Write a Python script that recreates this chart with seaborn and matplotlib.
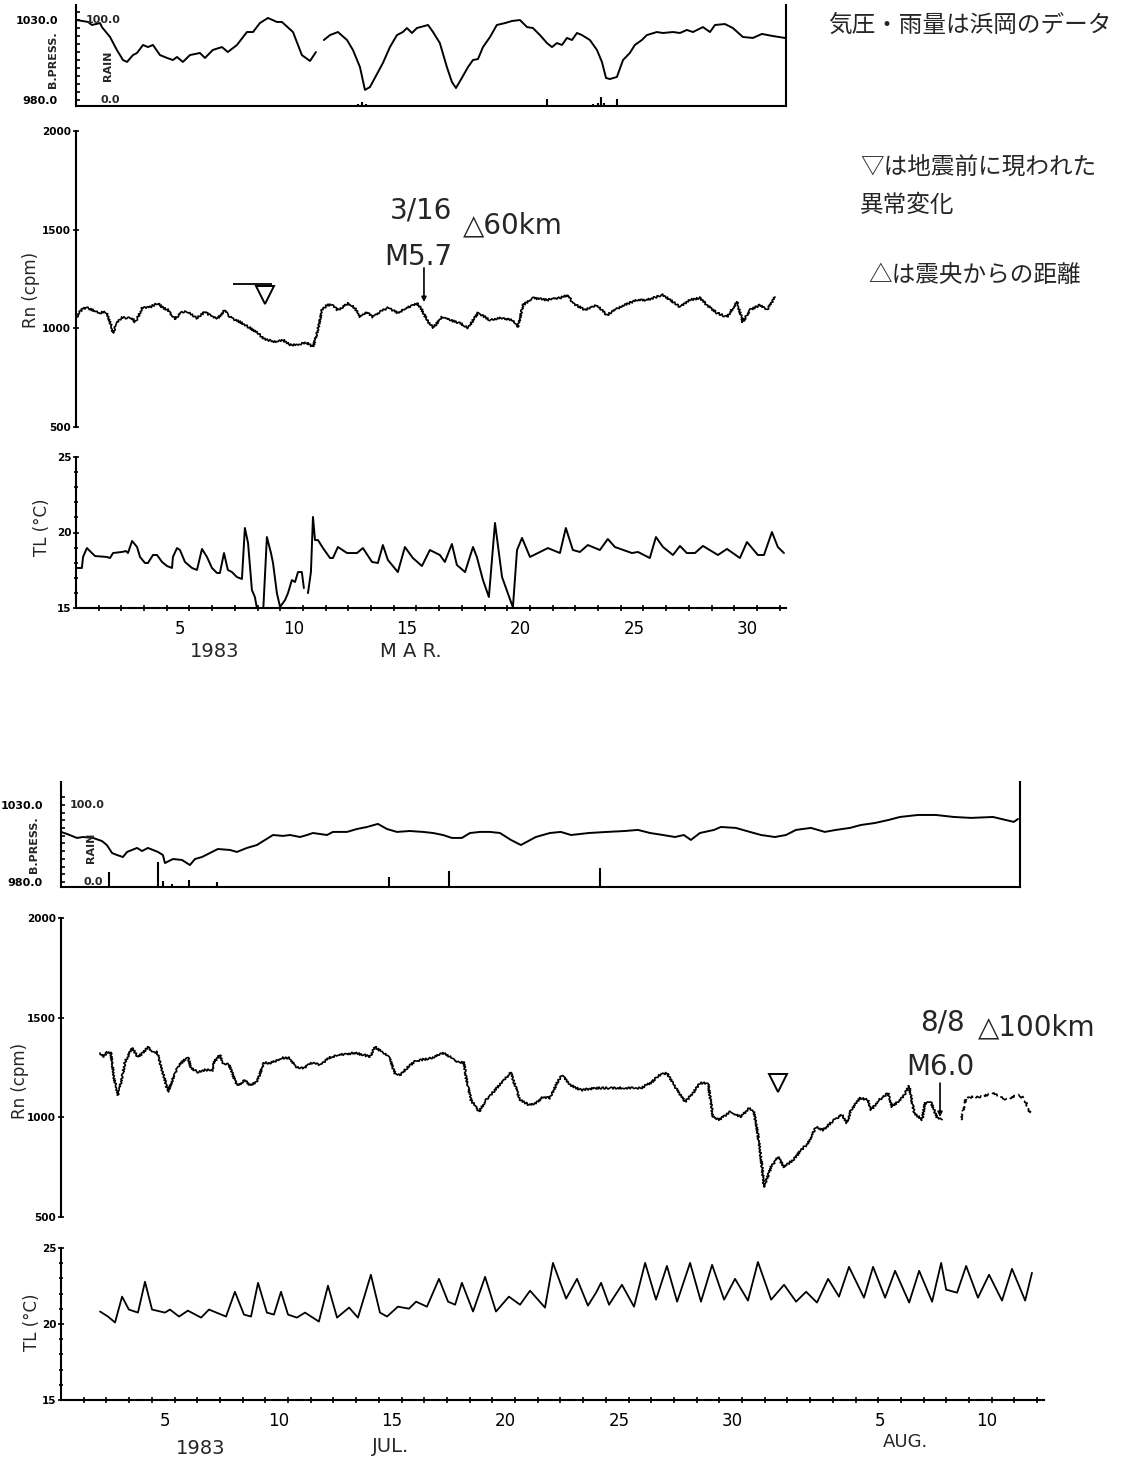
import numpy as np
import pandas as pd
import seaborn as sns
import matplotlib.pyplot as plt
from matplotlib import font_manager

# ---- values ----
# March 1983 (x = day of month)
mar_press_day_a = [0.45, 0.95, 1.12, 1.48, 1.56, 1.92, 2.22, 2.49, 2.67, 2.93,
                   3.11, 3.37, 3.59, 3.81, 4.12, 4.43, 4.69, 4.87, 5.13, 5.44,
                   5.88, 6.10, 6.45, 6.85, 7.11, 7.51, 7.95, 8.22, 8.52, 8.88,
                   9.27, 9.49, 9.98, 10.37, 10.73, 10.99]
mar_press_hpa_a = [1030.0, 1028.8, 1026.9, 1028.1, 1025.6, 1019.4, 1011.3, 1005.0, 1003.8, 1008.1,
                   1009.4, 1014.4, 1013.1, 1014.4, 1008.1, 1006.3, 1005.0, 1006.9, 1003.8, 1008.1,
                   1009.4, 1006.3, 1011.3, 1013.1, 1010.0, 1014.4, 1022.5, 1022.5, 1028.1, 1031.3,
                   1028.8, 1028.8, 1022.5, 1008.1, 1004.4, 1010.0]
mar_press_day_b = [11.34, 11.61, 11.96, 12.36, 12.62, 12.93, 13.15, 13.37, 13.94, 14.25,
                   14.56, 14.82, 15.00, 15.22, 15.44, 15.93, 16.15, 16.45, 16.76, 16.98,
                   17.16, 17.42, 17.69, 17.91, 18.13, 18.35, 18.66, 18.96, 19.32, 19.63,
                   19.98, 20.29, 20.55, 20.86, 21.17, 21.39, 21.61, 21.83, 22.05, 22.27,
                   22.49, 22.71, 23.06, 23.37, 23.59, 23.77, 23.94, 24.25, 24.52, 24.82,
                   25.04, 25.35, 25.57, 26.01, 26.28, 26.72, 27.03, 27.33, 27.60, 28.04,
                   28.35, 28.57, 29.01, 29.36, 29.80, 30.24, 30.64, 31.12, 31.65]
mar_press_hpa_b = [1017.5, 1020.6, 1022.5, 1017.5, 1011.3, 1000.6, 986.3, 988.1, 1003.1, 1013.1,
                   1020.6, 1022.5, 1025.0, 1021.9, 1025.0, 1026.9, 1022.5, 1015.6, 1000.6, 991.3,
                   987.5, 993.8, 1000.6, 1005.0, 1005.6, 1013.1, 1019.4, 1026.9, 1028.1, 1029.4,
                   1030.0, 1025.6, 1025.0, 1020.6, 1015.6, 1013.1, 1015.6, 1014.4, 1018.8, 1017.5,
                   1021.9, 1020.6, 1017.5, 1011.3, 1003.8, 993.8, 993.1, 994.4, 1005.0, 1009.4,
                   1014.4, 1017.5, 1020.6, 1022.5, 1021.9, 1022.5, 1021.9, 1023.8, 1022.5, 1025.6,
                   1022.5, 1026.9, 1027.5, 1025.0, 1019.4, 1018.8, 1021.3, 1020.0, 1018.8]
mar_rain_day = [12.84, 13.02, 13.19, 21.17, 23.19, 23.41, 23.55, 23.68, 24.25]
mar_rain_mm = [2, 5, 2, 8, 2, 3.5, 10, 3.5, 8]

mar_rn_day = [0.45, 0.59, 0.73, 0.95, 1.34, 1.48, 1.61, 1.78, 1.92, 2.05,
              2.22, 2.44, 2.67, 2.89, 3.02, 3.15, 3.33, 3.68, 4.03, 4.25,
              4.47, 4.78, 5.09, 5.35, 5.75, 6.10, 6.45, 6.67, 6.98, 7.20,
              7.64, 8.08, 8.44, 8.66, 8.83, 9.27, 9.54, 9.85, 10.29, 10.59,
              10.86, 11.04, 11.26, 11.48, 11.74, 11.92, 12.18, 12.40, 12.71, 12.93,
              13.24, 13.50, 13.81, 14.16, 14.60, 15.00, 15.44, 15.66, 15.88, 16.15,
              16.54, 16.89, 17.33, 17.69, 18.13, 18.66, 19.10, 19.63, 19.89, 20.11,
              20.55, 21.17, 21.74, 22.09, 22.31, 22.84, 23.37, 23.81, 24.38, 25.13,
              25.57, 26.28, 26.59, 27.03, 27.47, 27.91, 28.22, 28.66, 29.10, 29.54,
              29.80, 30.11, 30.55, 30.86, 31.21]
mar_rn_cpm = [1057, 1083, 1103, 1103, 1083, 1078, 1083, 1078, 1032, 976,
              1027, 1057, 1052, 1052, 1032, 1057, 1103, 1108, 1128, 1103,
              1093, 1047, 1083, 1083, 1052, 1083, 1057, 1052, 1093, 1057,
              1032, 1002, 976, 951, 941, 931, 941, 915, 921, 926,
              905, 976, 1093, 1118, 1118, 1093, 1108, 1128, 1103, 1057,
              1083, 1057, 1083, 1103, 1078, 1103, 1128, 1093, 1042, 1002,
              1057, 1042, 1027, 1002, 1078, 1042, 1052, 1042, 1007, 1118,
              1154, 1144, 1154, 1169, 1128, 1093, 1118, 1067, 1108, 1144,
              1144, 1169, 1144, 1108, 1144, 1154, 1118, 1078, 1057, 1133,
              1032, 1093, 1118, 1093, 1159]

mar_tl_day_a = [0.42, 0.68, 0.73, 0.90, 1.12, 1.26, 1.78, 1.92, 2.05, 2.44,
                2.62, 2.71, 2.89, 3.11, 3.24, 3.46, 3.59, 3.81, 3.99, 4.21,
                4.43, 4.65, 4.69, 4.87, 5.00, 5.22, 5.53, 5.75, 5.97, 6.19,
                6.41, 6.63, 6.76, 6.94, 7.11, 7.29, 7.51, 7.73, 7.86, 8.00,
                8.17, 8.30, 8.44, 8.66, 8.83, 9.01, 9.10, 9.27, 9.41, 9.63,
                9.76, 9.93, 10.07, 10.20, 10.37, 10.46]
mar_tl_c_a = [17.65, 17.65, 18.38, 18.97, 18.64, 18.44, 18.38, 18.31, 18.64, 18.71,
              18.77, 18.64, 19.44, 19.04, 18.38, 17.98, 17.98, 18.51, 18.51, 18.05,
              17.78, 17.65, 18.38, 18.97, 18.84, 18.05, 17.65, 17.52, 18.91, 18.38,
              17.65, 17.32, 17.32, 18.64, 17.52, 17.38, 17.05, 16.92, 20.30, 19.30,
              16.19, 15.73, 14.6, 14.6, 19.70, 18.64, 17.98, 15.99, 15.07, 15.53,
              15.99, 16.85, 16.72, 17.38, 17.38, 16.32]
mar_tl_day_b = [10.64, 10.77, 10.86, 10.95, 11.08, 11.30, 11.61, 11.74, 11.96, 12.36,
                12.80, 13.06, 13.46, 13.72, 13.94, 14.16, 14.60, 14.91, 15.26, 15.66,
                16.01, 16.45, 16.67, 16.98, 17.20, 17.56, 17.91, 18.08, 18.35, 18.61,
                18.88, 19.19, 19.63, 19.67, 19.85, 20.07, 20.42, 20.77, 21.21, 21.74,
                22.00, 22.31, 22.62, 22.97, 23.50, 23.85, 24.16, 24.91, 25.18, 25.70,
                25.97, 26.28, 26.72, 27.03, 27.33, 27.69, 28.04, 28.70, 29.10, 29.67,
                29.98, 30.46, 30.73, 31.08, 31.34, 31.61]
mar_tl_c_b = [15.99, 17.38, 21.03, 19.50, 19.50, 18.97, 18.31, 18.31, 19.04, 18.64,
              18.64, 18.97, 18.05, 17.98, 19.17, 18.18, 17.38, 19.04, 18.31, 17.78,
              18.84, 18.51, 18.05, 19.24, 17.85, 17.38, 19.04, 18.38, 16.85, 15.73,
              20.63, 17.05, 15.20, 15.07, 18.84, 19.64, 18.38, 18.64, 18.97, 18.64,
              20.30, 18.84, 18.71, 19.17, 18.84, 19.57, 19.04, 18.64, 18.71, 18.31,
              19.70, 19.04, 18.51, 19.11, 18.64, 18.64, 19.11, 18.51, 18.91, 18.31,
              19.37, 18.51, 18.51, 20.03, 19.04, 18.64]

# July-August 1983 (x = day counted from 1 July, Aug 1 = 32)
jul_press_day = [0.42, 0.68, 1.12, 1.39, 1.83, 2.22, 2.44, 2.67, 2.89, 3.15,
                 3.33, 3.77, 3.99, 4.25, 4.69, 4.91, 5.00, 5.35, 5.75, 6.10,
                 6.32, 6.63, 6.98, 7.33, 7.86, 8.17, 8.61, 9.05, 9.41, 9.76,
                 10.20, 10.51, 10.95, 11.26, 11.52, 12.14, 12.40, 13.02, 13.46, 13.90,
                 14.38, 14.78, 15.22, 15.79, 16.37, 16.81, 17.25, 17.64, 18.08, 18.44,
                 18.88, 19.32, 19.76, 20.24, 20.68, 21.34, 21.96, 22.44, 22.89, 23.68,
                 24.47, 25.26, 25.84, 26.37, 26.94, 27.47, 27.86, 28.17, 28.57, 29.19,
                 29.49, 30.15, 30.77, 31.26, 31.87, 32.36, 32.80, 33.46, 34.07, 34.56,
                 35.18, 35.66, 36.28, 36.89, 37.38, 38.17, 38.96, 39.76, 40.51, 41.48,
                 42.40, 42.58]
jul_press_hpa = [1012.5, 1011.2, 1008.6, 1009.2, 1008.6, 1006.6, 1004.0, 998.8, 997.5, 996.2,
                 999.5, 1002.1, 1000.1, 1002.1, 999.5, 997.5, 992.3, 994.9, 994.3, 991.0,
                 994.9, 996.2, 998.8, 1001.4, 1000.8, 999.5, 1002.1, 1004.0, 1007.3, 1010.5,
                 1009.9, 1010.5, 1009.2, 1010.5, 1011.8, 1010.5, 1012.5, 1012.5, 1014.4, 1015.7,
                 1017.7, 1014.4, 1012.5, 1013.1, 1012.5, 1011.8, 1010.5, 1008.6, 1008.6, 1011.8,
                 1012.5, 1012.5, 1011.8, 1007.3, 1004.0, 1009.2, 1011.8, 1012.5, 1010.5, 1011.8,
                 1012.5, 1013.1, 1013.8, 1011.8, 1010.5, 1009.2, 1010.5, 1007.3, 1011.8, 1013.8,
                 1015.7, 1015.1, 1012.5, 1010.5, 1009.2, 1010.5, 1013.8, 1015.1, 1012.5, 1013.8,
                 1015.1, 1017.0, 1018.3, 1020.3, 1022.2, 1023.5, 1023.5, 1022.2, 1021.6, 1022.2,
                 1019.0, 1020.9]
jul_rain_day = [2.53, 4.69, 4.91, 5.31, 6.06, 7.29, 14.87, 17.51, 24.16]
jul_rain_mm = [18, 31, 7, 4, 9, 6, 12, 20, 23]

jul_rn_day_a = [2.14, 2.31, 2.44, 2.62, 2.75, 2.93, 3.15, 3.24, 3.55, 3.81,
                4.03, 4.25, 4.52, 4.65, 4.96, 5.13, 5.44, 5.62, 6.01, 6.15,
                6.45, 6.76, 7.11, 7.16, 7.42, 7.56, 7.82, 8.13, 8.26, 8.52,
                8.74, 9.05, 9.36, 9.67, 10.15, 10.46, 10.77, 11.12, 11.43, 11.87,
                12.22, 12.67, 13.33, 13.77, 14.03, 14.25, 14.56, 14.87, 15.13, 15.35,
                15.66, 15.97, 16.28, 16.76, 17.25, 17.56, 17.95, 18.17, 18.26, 18.48,
                18.83, 19.14, 19.54, 19.93, 20.24, 20.37, 20.64, 21.04, 21.34, 21.65,
                21.96, 22.27, 22.49, 22.84, 23.33, 23.99, 24.65, 25.31, 25.97, 26.45,
                26.76, 27.11, 27.42, 27.91, 28.26, 28.57, 28.92, 29.14, 29.41, 29.89,
                30.37, 30.73, 30.95, 31.12, 31.30, 31.39, 31.70, 32.00, 32.27, 32.67,
                33.02, 33.33, 33.68, 33.99, 34.47, 34.82, 35.04, 35.22, 35.62, 35.97,
                36.10, 36.45, 36.85, 37.03, 37.51, 37.78, 38.00, 38.35, 38.48, 38.74,
                39.01, 39.23]
jul_rn_cpm_a = [1323, 1303, 1328, 1323, 1202, 1112, 1222, 1278, 1348, 1303,
                1323, 1353, 1323, 1328, 1202, 1127, 1222, 1263, 1303, 1247,
                1227, 1237, 1237, 1278, 1313, 1273, 1263, 1172, 1162, 1187,
                1162, 1177, 1273, 1273, 1298, 1298, 1252, 1247, 1273, 1263,
                1298, 1313, 1323, 1313, 1303, 1353, 1328, 1303, 1222, 1212,
                1247, 1278, 1288, 1298, 1323, 1303, 1273, 1278, 1202, 1087,
                1027, 1087, 1137, 1187, 1227, 1177, 1087, 1062, 1072, 1102,
                1097, 1172, 1212, 1162, 1137, 1147, 1147, 1147, 1147, 1177,
                1212, 1222, 1162, 1077, 1122, 1172, 1172, 1002, 987, 1027,
                1002, 1047, 1022, 911, 751, 650, 751, 801, 751, 786,
                836, 871, 951, 936, 987, 1012, 972, 1037, 1097, 1087,
                1037, 1087, 1122, 1052, 1102, 1157, 1022, 987, 1072, 1077,
                997, 987]
jul_rn_day_b = [40.07, 40.29, 40.86, 41.52, 42.00, 42.53, 42.84, 43.11]
jul_rn_cpm_b = [987, 1102, 1102, 1122, 1087, 1112, 1097, 1022]

jul_tl_day = [2.14, 2.49, 2.80, 3.11, 3.41, 3.81, 4.12, 4.43, 5.00, 5.22,
              5.62, 6.01, 6.59, 6.94, 7.69, 8.08, 8.48, 8.79, 9.10, 9.49,
              9.80, 10.11, 10.42, 10.81, 11.17, 11.78, 12.18, 12.58, 13.11, 13.50,
              14.07, 14.47, 14.78, 15.26, 15.75, 16.06, 16.54, 17.07, 17.47, 17.78,
              18.08, 18.57, 19.10, 19.58, 20.15, 20.64, 21.08, 21.74, 22.09, 22.67,
              23.15, 23.63, 23.99, 24.21, 24.56, 25.13, 25.66, 26.15, 26.63, 27.11,
              27.56, 28.13, 28.61, 29.10, 29.63, 30.11, 30.68, 31.12, 31.70, 32.27,
              32.80, 33.24, 33.72, 34.21, 34.69, 35.13, 35.79, 36.19, 36.72, 37.16,
              37.78, 38.22, 38.79, 39.19, 39.41, 39.89, 40.29, 40.81, 41.30, 41.87,
              42.31, 42.89, 43.19]
jul_tl_c = [20.82, 20.49, 20.10, 21.80, 20.95, 20.75, 22.78, 20.95, 20.75, 20.95,
            20.49, 20.88, 20.42, 20.95, 20.49, 22.12, 20.62, 20.49, 22.71, 20.75,
            20.62, 22.12, 20.62, 20.42, 20.75, 20.16, 22.52, 20.42, 21.08, 20.42,
            23.24, 20.75, 20.49, 21.14, 21.01, 21.47, 21.14, 22.97, 21.47, 21.27,
            22.71, 20.82, 23.10, 20.82, 21.80, 21.27, 22.19, 21.08, 24.02, 21.67,
            22.97, 21.21, 22.06, 22.71, 21.27, 22.58, 21.14, 24.02, 21.60, 23.82,
            21.47, 24.02, 21.47, 23.89, 21.60, 22.97, 21.54, 24.08, 21.60, 22.58,
            21.47, 22.12, 21.41, 22.97, 21.80, 23.76, 21.73, 23.76, 21.73, 23.50,
            21.41, 23.50, 21.47, 24.02, 22.26, 22.06, 23.82, 21.73, 23.24, 21.54,
            23.63, 21.54, 23.37]

mar_ticks = [5, 10, 15, 20, 25, 30]
jul_ticks = [5, 10, 15, 20, 25, 30, 36.5, 41.2]
jul_tick_labels = ['5', '10', '15', '20', '25', '30', '5', '10']

# ---- figure ----
W, H = 1124, 1464
sns.set_theme(style="white", rc={"axes.edgecolor": "black", "axes.linewidth": 1.5,
                                  "xtick.color": "black", "ytick.color": "black",
                                  "xtick.major.width": 1.2, "ytick.major.width": 1.2,
                                  "xtick.minor.width": 1.2, "ytick.minor.width": 1.2})
plt.rcParams["font.family"] = ["DejaVu Sans", "Noto Sans CJK JP"]

fonts = font_manager.fontManager.ttflist
if any(f.name == "Liberation Sans Narrow" for f in fonts):
    NARROW, ANN = "Liberation Sans Narrow", 26
else:
    NARROW, ANN = "DejaVu Sans", 20
ANN_FONT = [NARROW, "DejaVu Sans"]
JP = ["Noto Sans CJK JP", "DejaVu Sans"]

fig = plt.figure(figsize=(W / 100, H / 100), dpi=100, facecolor="white")


def box(x0, y0, x1, y1):
    return [x0 / W, 1 - y1 / H, (x1 - x0) / W, (y1 - y0) / H]


def ftext(x, y, s, **kw):
    fig.text(x / W, 1 - y / H, s, **kw)


def trace(ax, parts, lw=1.4, **kw):
    frames = [pd.DataFrame({"day": d, "val": v, "seg": i}) for i, (d, v) in enumerate(parts)]
    df = pd.concat(frames, ignore_index=True)
    sns.lineplot(data=df, x="day", y="val", units="seg", estimator=None, sort=False,
                 color="black", linewidth=lw, ax=ax, legend=False, **kw)
    ax.set_xlabel("")
    ax.set_ylabel("")


def style_press(ax, xmax, ylim, rain_top):
    ax.set_xlim(0.42, xmax)
    ax.set_ylim(*ylim)
    ax.spines["top"].set_visible(False)
    ax.set_xticks([])
    ax.set_yticks([980, 1030])
    ax.set_yticklabels(["980.0", "1030.0"], fontsize=8, fontweight="bold", family=NARROW)
    ax.set_yticks(np.arange(980, 1036, 5), minor=True)
    ax.tick_params(axis="y", which="both", left=True, direction="in", length=3, pad=13)
    rain = ax.twinx()
    rain.set_ylim(0, rain_top)
    rain.set_yticks([])
    for s in rain.spines.values():
        s.set_visible(False)
    return rain


def style_rn(ax, xmax):
    ax.set_xlim(0.42, xmax)
    ax.set_ylim(500, 2000)
    for s in ["top", "right", "bottom"]:
        ax.spines[s].set_visible(False)
    ax.set_xticks([])
    ax.set_yticks([500, 1000, 1500, 2000])
    ax.set_yticklabels(["500", "1000", "1500", "2000"], fontsize=7.5, fontweight="bold")
    ax.set_yticks(np.arange(500, 2001, 100), minor=True)
    ax.tick_params(axis="y", which="major", left=True, direction="inout", length=5, pad=1)
    ax.tick_params(axis="y", which="minor", left=True, direction="inout", length=2)


def style_tl(ax, xmax, ticks, labels):
    ax.set_xlim(0.42, xmax)
    ax.set_ylim(15, 25)
    ax.spines["top"].set_visible(False)
    ax.spines["right"].set_visible(False)
    ax.set_yticks([15, 20, 25])
    ax.set_yticklabels(["15", "20", "25"], fontsize=7.5, fontweight="bold")
    ax.set_yticks(np.arange(15, 26, 1), minor=True)
    ax.tick_params(axis="y", which="major", left=True, direction="inout", length=5, pad=1)
    ax.tick_params(axis="y", which="minor", left=True, direction="inout", length=3)
    ax.set_xticks(ticks)
    ax.set_xticklabels(labels, fontsize=12)
    ax.set_xticks(np.arange(1.42, xmax, 1), minor=True)
    ax.tick_params(axis="x", which="major", bottom=True, length=0, pad=9)
    ax.tick_params(axis="x", which="minor", bottom=True, direction="inout", length=4)


# ---------------- March ----------------
ax_p1 = fig.add_axes(box(76, 5, 786, 106))
ax_r1 = fig.add_axes(box(76, 131, 786, 427))
ax_t1 = fig.add_axes(box(76, 457, 786, 608))

trace(ax_p1, [(mar_press_day_a, mar_press_hpa_a), (mar_press_day_b, mar_press_hpa_b)])
rain1 = style_press(ax_p1, 31.70, (976.25, 1039.4), 117.4)
rain1.vlines(mar_rain_day, 0, mar_rain_mm, color="black", lw=1.5)

trace(ax_r1, [(mar_rn_day, mar_rn_cpm)], lw=1.2)
for ln in ax_r1.lines:
    ln.set_sketch_params(scale=1.0, length=3, randomness=2)
style_rn(ax_r1, 31.70)

trace(ax_t1, [(mar_tl_day_a, mar_tl_c_a), (mar_tl_day_b, mar_tl_c_b)])
style_tl(ax_t1, 31.70, mar_ticks, [str(t) for t in mar_ticks])

# anomaly mark and the 3/16 event
ax_r1.hlines(1225, 7.33, 9.05, color="black", lw=1.3)
ax_r1.plot([8.74], [1169], marker="v", ms=13, mfc="white", mec="black", mew=1.4, ls="none")
ax_r1.annotate("", xy=(15.75, 1133), xytext=(15.75, 1306),
               arrowprops=dict(arrowstyle="-|>", color="black", lw=1.2,
                               mutation_scale=7, shrinkA=0, shrinkB=0))
ax_r1.text(16.98, 1559, "3/16", fontsize=ANN, family=ANN_FONT, ha="right", va="baseline")
ax_r1.text(17.47, 1483, "△60km", fontsize=ANN, family=ANN_FONT, va="baseline")
ax_r1.text(16.98, 1321, "M5.7", fontsize=ANN, family=ANN_FONT, ha="right", va="baseline")

# ---------------- July / August ----------------
ax_p2 = fig.add_axes(box(61, 782, 1020, 887))
ax_r2 = fig.add_axes(box(61, 918, 1044, 1217))
ax_t2 = fig.add_axes(box(61, 1248, 1044, 1400))

trace(ax_p2, [(jul_press_day, jul_press_hpa)])
rain2 = style_press(ax_p2, 42.67, (976.75, 1044.9), 128)
rain2.vlines(jul_rain_day, 0, jul_rain_mm, color="black", lw=1.5)

trace(ax_r2, [(jul_rn_day_a, jul_rn_cpm_a)], lw=1.2)
trace(ax_r2, [(jul_rn_day_b, jul_rn_cpm_b)], lw=1.2, linestyle=(0, (5, 2.5)))
for ln in ax_r2.lines:
    ln.set_sketch_params(scale=1.0, length=3, randomness=2)
style_rn(ax_r2, 43.72)

trace(ax_t2, [(jul_tl_day, jul_tl_c)], lw=1.3)
style_tl(ax_t2, 43.72, jul_ticks, jul_tick_labels)

ax_r2.plot([32.0], [1172], marker="v", ms=13, mfc="white", mec="black", mew=1.4, ls="none")
ax_r2.annotate("", xy=(39.14, 1002), xytext=(39.14, 1172),
               arrowprops=dict(arrowstyle="-|>", color="black", lw=1.2,
                               mutation_scale=7, shrinkA=0, shrinkB=0))
ax_r2.text(40.24, 1438, "8/8", fontsize=ANN, family=ANN_FONT, ha="right", va="baseline")
ax_r2.text(40.81, 1413, "△100km", fontsize=ANN, family=ANN_FONT, va="baseline")
ax_r2.text(40.64, 1212, "M6.0", fontsize=ANN, family=ANN_FONT, ha="right", va="baseline")

# ---------------- panel labels ----------------
small = dict(fontsize=8, fontweight="bold", ha="center", va="center", family=NARROW)
for (bx, by), (rx, ry), (hx, hy), (zx, zy) in [((53, 60), (108, 66), (103, 20), (110, 100)),
                                               ((34, 845), (91, 848), (87, 805), (93, 882))]:
    ftext(bx, by, "B.PRESS.", rotation=90, **small)
    ftext(rx, ry, "RAIN", rotation=90, **small)
    ftext(hx, hy, "100.0", **small)
    ftext(zx, zy, "0.0", **small)

ylab = dict(fontsize=12, rotation=90, ha="center", va="center")
ftext(31, 290, "Rn (cpm)", **ylab)
ftext(42, 527, "TL (°C)", **ylab)
ftext(20, 1081, "Rn (cpm)", **ylab)
ftext(32, 1322, "TL (°C)", **ylab)

mlab = dict(fontsize=14, ha="center", va="center")
ftext(215, 652, "1983", **mlab)
ftext(411, 652, "M A R.", **mlab)
ftext(201, 1448, "1983", **mlab)
ftext(391, 1446, "JUL.", **mlab)
ftext(905, 1442, "AUG.", fontsize=13, ha="center", va="center")

# ---------------- notes ----------------
note = dict(fontsize=17, family=JP, ha="left", va="center")
ftext(828, 25, "気圧・雨量は浜岡のデータ", **note)
ftext(860, 167, "▽は地震前に現われた", **note)
ftext(860, 206, "異常変化", **note)
ftext(868, 276, "△は震央からの距離", **note)

fig.savefig("out.png", dpi=100, facecolor="white")
